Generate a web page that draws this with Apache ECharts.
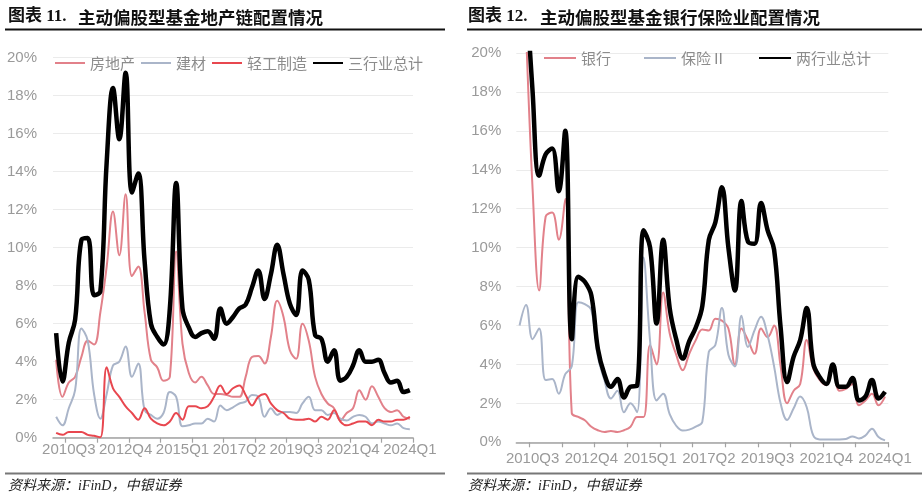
<!DOCTYPE html>
<html><head><meta charset="utf-8">
<script src="https://cdn.jsdelivr.net/npm/echarts@6/dist/echarts.min.js"></script>
<style>html,body{margin:0;padding:0;background:#fff}#c{width:923px;height:500px}</style>
</head><body><div id="c"></div>
<script>
// Quarters 2010Q1 .. 2024Q1
const quarters = [
 '2010Q1','2010Q2','2010Q3','2010Q4','2011Q1','2011Q2','2011Q3','2011Q4',
 '2012Q1','2012Q2','2012Q3','2012Q4','2013Q1','2013Q2','2013Q3','2013Q4',
 '2014Q1','2014Q2','2014Q3','2014Q4','2015Q1','2015Q2','2015Q3','2015Q4',
 '2016Q1','2016Q2','2016Q3','2016Q4','2017Q1','2017Q2','2017Q3','2017Q4',
 '2018Q1','2018Q2','2018Q3','2018Q4','2019Q1','2019Q2','2019Q3','2019Q4',
 '2020Q1','2020Q2','2020Q3','2020Q4','2021Q1','2021Q2','2021Q3','2021Q4',
 '2022Q1','2022Q2','2022Q3','2022Q4','2023Q1','2023Q2','2023Q3','2023Q4',
 '2024Q1'];

// Left chart (%): 房地产, 建材, 轻工制造, 三行业总计
const realEstate = [4.1,2.15,2.9,3.2,4.25,5.1,4.9,6.6,9.0,11.9,9.6,12.8,8.5,9.0,6.6,4.1,3.7,3.0,3.2,9.8,
 4.95,3.4,2.9,3.2,2.75,2.3,2.3,2.25,2.15,2.15,3.2,4.25,4.3,3.9,5.3,7.2,6.35,4.6,4.15,6.0,
 5.1,3.2,2.3,1.8,1.55,0.9,1.3,1.55,2.5,2.0,2.7,2.15,1.55,1.35,1.45,1.1,1.0];
const buildMat = [1.1,0.65,1.55,2.5,5.75,5.1,2.3,1.0,2.3,3.8,4.0,4.8,3.2,3.9,1.45,1.2,1.0,1.3,2.4,2.15,
 0.6,0.65,0.75,0.75,1.0,0.85,1.7,1.45,1.6,1.8,1.9,2.25,2.15,1.1,1.55,1.2,1.35,1.35,1.3,1.8,
 2.15,1.45,1.45,1.2,1.3,1.0,0.9,1.1,1.2,1.1,0.75,0.85,0.75,0.65,0.75,0.5,0.45];
const lightInd = [0.25,0.15,0.3,0.3,0.3,0.15,0.1,0.02,3.7,2.6,2.15,1.65,1.3,0.95,1.55,1.0,0.75,0.65,0.85,1.3,
 0.95,1.65,1.65,1.55,1.65,2.15,2.75,2.3,2.6,2.75,2.25,1.7,2.15,2.3,1.8,1.45,1.3,1.0,0.95,0.95,
 1.0,0.85,1.1,0.95,1.45,0.85,0.65,0.75,0.85,0.85,0.65,0.95,0.85,0.85,0.95,0.95,1.1];
const total3 = [5.5,2.95,5.0,6.2,10.4,10.5,7.5,7.7,14.5,18.4,15.7,19.2,12.9,13.9,9.3,6.0,5.3,4.9,6.8,13.4,
 6.8,5.8,5.3,5.5,5.6,5.2,6.8,6.0,6.35,6.8,7.0,7.9,8.8,7.3,8.6,10.15,8.6,7.05,6.45,8.8,
 8.3,5.4,5.2,4.0,4.6,3.0,3.2,3.8,4.6,4.0,4.0,4.1,3.4,2.9,3.0,2.4,2.5];

// Right chart (%): 银行, 保险Ⅱ, 两行业总计
const bank = [30,21,13,7.8,11.6,11.8,10.4,12.5,1.5,1.3,1.13,0.8,0.62,0.53,0.58,0.53,0.62,0.8,1.3,1.3,
 5.0,4.0,7.7,5.6,4.5,3.7,4.55,5.25,5.8,5.75,6.35,6.25,5.85,4.0,5.85,5.25,4.55,5.85,5.4,6.0,
 3.9,2.0,2.65,3.0,5.25,3.8,3.2,2.95,3.8,2.65,2.75,3.0,1.9,2.15,2.5,1.9,2.35];
const insurance = [6.0,7.05,5.3,5.85,3.2,3.25,2.5,3.5,3.9,7.2,7.1,6.8,4.4,3.2,2.25,2.65,1.55,2.0,1.55,9.5,
 5.2,2.15,2.5,1.45,0.85,0.6,0.65,0.8,1.05,4.65,5.0,6.9,4.5,3.9,6.5,4.9,5.75,6.45,5.5,3.9,
 2.0,1.15,1.75,2.35,1.8,0.35,0.15,0.15,0.15,0.15,0.17,0.3,0.2,0.35,0.7,0.27,0.1];
const total2 = [36,24,18,13.7,14.8,15.1,12.9,16.0,5.3,8.5,8.25,7.55,4.8,3.5,2.85,3.25,2.3,2.85,2.9,10.9,
 10.0,6.1,10.4,6.9,5.3,4.3,5.2,5.9,7.0,10.4,11.3,13.1,10.0,7.8,12.4,10.3,10.2,12.3,10.9,9.9,
 5.9,3.1,4.4,5.25,6.9,4.05,3.35,3.0,4.0,2.85,2.85,3.3,2.15,2.35,3.2,2.25,2.6];

const yTicks = {min: 0, max: 20, interval: 2};

const PINK = '#E2818A', GREY = '#AAB5C9', RED = '#E8474F', BLACK = '#000000';
const AX = '#a3a3a3', LBL = '#9a9a9a', GRIDC = '#ebebeb';
const latin = '"Liberation Sans", Arial, sans-serif';
const cjk = '"Noto Sans CJK SC", sans-serif';

function xAxisCfg(gi, margin) {
  return {
    type: 'category', gridIndex: gi, data: quarters, boundaryGap: true,
    axisLine: {lineStyle: {color: AX, width: 1.5}},
    axisTick: {show: true, length: 5, lineStyle: {color: AX, width: 1.2},
               interval: (i) => (i - 2) % 5 === 0},
    axisLabel: {interval: (i) => (i - 2) % 9 === 0, color: LBL, fontSize: 15,
                fontFamily: latin, margin: margin, hideOverlap: false},
    splitLine: {show: false}
  };
}
function yAxisCfg(gi, margin) {
  return {
    type: 'value', gridIndex: gi, min: yTicks.min, max: yTicks.max, interval: yTicks.interval,
    axisLine: {show: false}, axisTick: {show: false},
    axisLabel: {formatter: '{value}%', color: LBL, fontSize: 15, fontFamily: latin, margin: margin},
    splitLine: {lineStyle: {color: GRIDC, width: 1}}
  };
}
function line(name, data, color, width, gi) {
  return {name, type: 'line', data, xAxisIndex: gi, yAxisIndex: gi, smooth: 0.4,
    symbol: 'none', showSymbol: false, lineStyle: {color, width}, itemStyle: {color},
    emphasis: {disabled: true}, clip: true};
}

const legendBase = {padding: 0, itemHeight: 14, selectedMode: false,
  itemStyle: {opacity: 0, borderWidth: 0},
  textStyle: {fontSize: 15, color: '#8c8c8c', fontFamily: cjk}};

const chart = echarts.init(document.getElementById('c'), null, {renderer: 'canvas'});
chart.setOption({
  animation: false,
  backgroundColor: '#ffffff',
  grid: [
    {left: 53, top: 57.5, width: 360, height: 380.2, outerBoundsMode: 'none', containLabel: false},
    {left: 516.3, top: 53, width: 372, height: 389.3, outerBoundsMode: 'none', containLabel: false}
  ],
  xAxis: [xAxisCfg(0, 5), xAxisCfg(1, 9)],
  yAxis: [yAxisCfg(0, 16), yAxisCfg(1, 15)],
  legend: [
    Object.assign({}, legendBase, {left: 54, top: 55.5, itemWidth: 30, itemGap: 5,
     data: ['房地产', '建材', '轻工制造', '三行业总计']}),
    Object.assign({}, legendBase, {left: 543, top: 50.5, itemWidth: 32, itemGap: 32,
     data: ['银行', '保险Ⅱ', '两行业总计']})
  ],
  series: [
    line('房地产', realEstate, PINK, 2, 0),
    line('建材', buildMat, GREY, 2, 0),
    line('轻工制造', lightInd, RED, 2, 0),
    line('三行业总计', total3, BLACK, 4.5, 0),
    line('银行', bank, PINK, 2, 1),
    line('保险Ⅱ', insurance, GREY, 2, 1),
    line('两行业总计', total2, BLACK, 4.5, 1)
  ],
  graphic: [
    {type: 'text', x: 8, y: 17, style: {text: '图表 11.', font: 'bold 17px "Liberation Serif", "Noto Sans CJK SC", serif', fill: '#111', verticalAlign: 'middle'}},
    {type: 'text', x: 78, y: 17, style: {text: '主动偏股型基金地产链配置情况', font: 'bold 17.5px "Noto Sans CJK SC", sans-serif', fill: '#111', verticalAlign: 'middle'}},
    {type: 'text', x: 468, y: 17, style: {text: '图表 12.', font: 'bold 17px "Liberation Serif", "Noto Sans CJK SC", serif', fill: '#111', verticalAlign: 'middle'}},
    {type: 'text', x: 540, y: 17, style: {text: '主动偏股型基金银行保险业配置情况', font: 'bold 17.5px "Noto Sans CJK SC", sans-serif', fill: '#111', verticalAlign: 'middle'}},
    {type: 'line', shape: {x1: 5, y1: 29.5, x2: 445, y2: 29.5}, style: {stroke: '#111', lineWidth: 2}},
    {type: 'line', shape: {x1: 467, y1: 29.5, x2: 922, y2: 29.5}, style: {stroke: '#111', lineWidth: 2}},
    {type: 'line', shape: {x1: 5, y1: 473.5, x2: 445, y2: 473.5}, style: {stroke: '#777', lineWidth: 2}},
    {type: 'line', shape: {x1: 467, y1: 473.5, x2: 922, y2: 473.5}, style: {stroke: '#777', lineWidth: 2}},
    {type: 'text', x: 8, y: 486, style: {text: '资料来源：iFinD，中银证券', font: 'italic 14px "Liberation Serif", "Noto Sans CJK SC", serif', fill: '#222', verticalAlign: 'middle'}},
    {type: 'text', x: 468, y: 486, style: {text: '资料来源：iFinD，中银证券', font: 'italic 14px "Liberation Serif", "Noto Sans CJK SC", serif', fill: '#222', verticalAlign: 'middle'}}
  ]
});
</script>
</body></html>
